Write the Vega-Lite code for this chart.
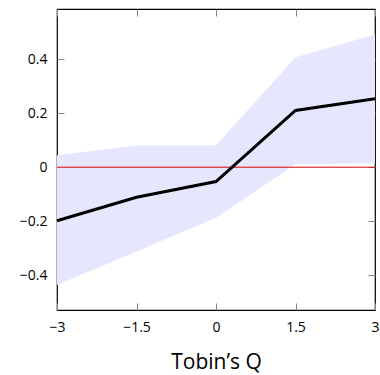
{
  "$schema": "https://vega.github.io/schema/vega-lite/v6.json",
  "autosize": {"type": "none"},
  "padding": {"left": 57, "top": 9, "right": 5, "bottom": 65},
  "width": 318,
  "height": 301,
  "config": {
    "view": {"stroke": "black", "strokeWidth": 1.2},
    "font": "Open Sans",
    "axis": {
      "domain": false,
      "grid": false,
      "offset": -7,
      "tickSize": 7,
      "tickColor": "#888888",
      "tickWidth": 1,
      "labelFont": "Open Sans",
      "labelFontSize": 14,
      "labelColor": "black",
      "labelPadding": 10,
      "titleFont": "Open Sans",
      "titleFontWeight": "normal",
      "titleColor": "black"
    }
  },
  "datasets": {
    "est": [
      {"q": -3, "coef": -0.198, "lo": -0.436, "hi": 0.044},
      {"q": -1.5, "coef": -0.111, "lo": -0.312, "hi": 0.08},
      {"q": 0, "coef": -0.053, "lo": -0.187, "hi": 0.08},
      {"q": 1.5, "coef": 0.21, "lo": 0.011, "hi": 0.407},
      {"q": 3, "coef": 0.253, "lo": 0.015, "hi": 0.491}
    ],
    "zero": [{"z": 0}]
  },
  "layer": [
    {
      "data": {"name": "est"},
      "mark": {"type": "area", "color": "#e6e6ff"},
      "encoding": {
        "x": {
          "field": "q", "type": "quantitative",
          "scale": {"domain": [-3, 3], "nice": false, "zero": false},
          "axis": {"orient": "bottom", "values": [-3, -1.5, 0, 1.5, 3],
                   "labelExpr": "datum.value < 0 ? '−' + abs(datum.value) : '' + datum.value",
                   "title": "Tobin’s Q", "titleFontSize": 21, "titlePadding": 17,
                   "labelFlush": false}
        },
        "y": {
          "field": "lo", "type": "quantitative",
          "scale": {"domain": [-0.528, 0.585], "nice": false, "zero": false},
          "axis": {"orient": "left", "values": [-0.4, -0.2, 0, 0.2, 0.4],
                   "labelExpr": "datum.value < 0 ? '−' + abs(datum.value) : '' + datum.value",
                   "title": null}
        },
        "y2": {"field": "hi"}
      }
    },
    {
      "data": {"name": "zero"},
      "mark": {"type": "rule", "color": "#dd0000", "strokeWidth": 1},
      "encoding": {
        "y": {"field": "z", "type": "quantitative", "axis": null}
      }
    },
    {
      "data": {"name": "est"},
      "mark": {"type": "line", "color": "black", "strokeWidth": 3, "strokeJoin": "miter"},
      "encoding": {
        "x": {
          "field": "q", "type": "quantitative",
          "axis": {"orient": "top", "values": [-3, -1.5, 0, 1.5, 3], "labels": false, "title": null}
        },
        "y": {
          "field": "coef", "type": "quantitative",
          "axis": {"orient": "right", "values": [-0.4, -0.2, 0, 0.2, 0.4], "labels": false, "title": null}
        }
      }
    }
  ],
  "resolve": {"axis": {"x": "independent", "y": "independent"}}
}
